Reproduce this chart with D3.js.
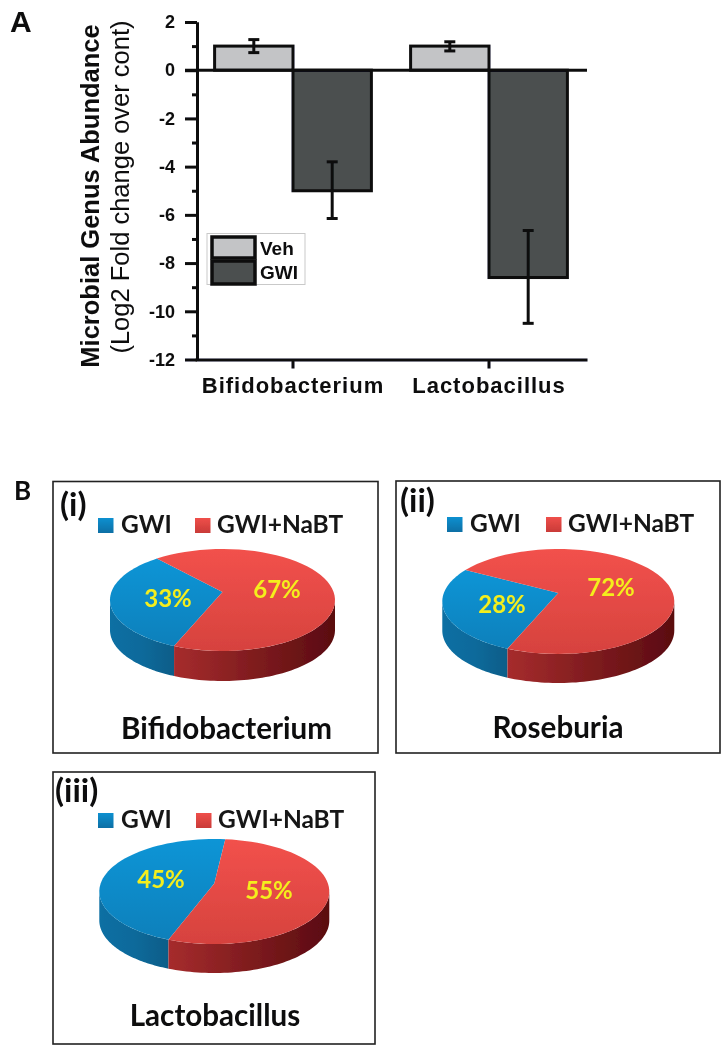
<!DOCTYPE html>
<html>
<head>
<meta charset="utf-8">
<script src="https://cdn.jsdelivr.net/npm/d3@7"></script>
<style>
  body { margin: 0; background: #fff; }
  svg { display: block; }
  .arial { font-family: "Liberation Sans", Arial, sans-serif; }
  .cal { font-family: Lato, "Open Sans", sans-serif; font-weight: 700; }
</style>
</head>
<body>
<script>
// bar chart values
const genera = ["Bifidobacterium", "Lactobacillus"];
const groups = ["Veh", "GWI"];
const vehMeans = [1, 1];
const vehUpper = [1.27, 1.18];
const vehLower = [0.73, 0.8];
const gwiMeans = [-5, -8.6];
const gwiUpper = [-3.8, -6.65];
const gwiLower = [-6.15, -10.5];
const majorTicks = [2, 0, -2, -4, -6, -8, -10, -12];
const minorTicks = [1, -1, -3, -5, -7, -9, -11];

// pie values
const pieTitles = ["Bifidobacterium", "Roseburia", "Lactobacillus"];
const pieTags = ["(i)", "(ii)", "(iii)"];
const pieLegend = ["GWI", "GWI+NaBT"];
const gwiShare = [33, 28, 45];
const nabtShare = [67, 72, 55];

const dark = "#0c0c0e";
const svg = d3.select("body").append("svg").attr("width", 726).attr("height", 1050);

const defs = svg.append("defs");
defs.append("filter").attr("id", "soft").append("feGaussianBlur").attr("stdDeviation", 0.55);
function grad(id, x2, y2, stops) {
  const g = defs.append("linearGradient").attr("id", id).attr("x1", 0).attr("y1", 0).attr("x2", x2).attr("y2", y2);
  stops.forEach((s, i) => g.append("stop").attr("offset", i / (stops.length - 1)).attr("stop-color", s));
}
grad("blueTop", 0, 1, ["#0f95d6", "#0b80bb"]);
grad("redTop", 0, 1, ["#f2514c", "#d6423e"]);
grad("blueSide", 1, 0, ["#0a6fa3", "#0a6a9b", "#085d88"]);
grad("redSide", 1, 0, ["#a62c2d", "#7f1c1e", "#5a0b10"]);
grad("blueKey", 0, 1, ["#0f90d0", "#0a6fa5"]);
grad("redKey", 0, 1, ["#ef4f4a", "#c93a38"]);

const root = svg.append("g").attr("filter", "url(#soft)");

// ---- panel A ----
const y = d3.scaleLinear().domain([2, -12]).range([22, 359.5]);
const x0 = d3.scaleBand().domain(genera).range([195, 587]);
const x1 = d3.scaleBand().domain(groups).range([0, x0.bandwidth()]).paddingOuter(0.25);

root.append("text").attr("class", "arial").attr("x", 10).attr("y", 32)
  .attr("font-size", 30).attr("font-weight", 700).attr("fill", dark).text("A");

const barRows = [];
genera.forEach((g, i) => {
  barRows.push({ genus: g, group: "Veh", mean: vehMeans[i], hi: vehUpper[i], lo: vehLower[i] });
  barRows.push({ genus: g, group: "GWI", mean: gwiMeans[i], hi: gwiUpper[i], lo: gwiLower[i] });
});
const barFill = { Veh: "#c3c4c6", GWI: "#4b4f50" };

root.selectAll("rect.bar").data(barRows).enter().append("rect")
  .attr("class", "bar")
  .attr("x", (d) => x0(d.genus) + x1(d.group))
  .attr("width", x1.bandwidth())
  .attr("y", (d) => Math.min(y(d.mean), y(0)))
  .attr("height", (d) => Math.abs(y(d.mean) - y(0)))
  .attr("fill", (d) => barFill[d.group])
  .attr("stroke", dark).attr("stroke-width", 3);

const barMid = (d) => x0(d.genus) + x1(d.group) + x1.bandwidth() / 2;
const errs = root.selectAll("g.err").data(barRows).enter().append("g").attr("class", "err")
  .attr("stroke", dark).attr("stroke-width", 3);
errs.append("line").attr("x1", barMid).attr("x2", barMid).attr("y1", (d) => y(d.hi)).attr("y2", (d) => y(d.lo));
errs.append("line").attr("x1", (d) => barMid(d) - 5.5).attr("x2", (d) => barMid(d) + 5.5).attr("y1", (d) => y(d.hi)).attr("y2", (d) => y(d.hi));
errs.append("line").attr("x1", (d) => barMid(d) - 5.5).attr("x2", (d) => barMid(d) + 5.5).attr("y1", (d) => y(d.lo)).attr("y2", (d) => y(d.lo));

// axes
const yMinor = root.append("g").attr("transform", "translate(197,0)")
  .call(d3.axisLeft(y).tickValues(minorTicks).tickSize(5).tickSizeOuter(0).tickFormat(""));
const yMajor = root.append("g").attr("transform", "translate(197,0)")
  .call(d3.axisLeft(y).tickValues(majorTicks).tickSize(12).tickSizeOuter(0).tickPadding(10).tickFormat((d) => String(d)));
const xAxis = root.append("g").attr("transform", "translate(0," + y(-12) + ")")
  .call(d3.axisBottom(x0).tickSize(9).tickSizeOuter(0).tickPadding(9));
root.append("line").attr("x1", 185).attr("x2", 587).attr("y1", y(0)).attr("y2", y(0))
  .attr("stroke", dark).attr("stroke-width", 3);

[yMinor, yMajor, xAxis].forEach((a) => {
  a.selectAll("path,line").attr("stroke", dark).attr("stroke-width", 3);
});
yMajor.selectAll("text").attr("class", "arial").attr("font-size", 18).attr("font-weight", 700).attr("fill", dark);
xAxis.selectAll("text").attr("class", "arial").attr("font-size", 22).attr("font-weight", 700)
  .attr("fill", dark).attr("letter-spacing", 1);

// axis titles
root.append("text").attr("class", "arial")
  .attr("transform", "translate(99,196) rotate(-90)").attr("text-anchor", "middle")
  .attr("font-size", 25.5).attr("font-weight", 700).attr("fill", dark).text("Microbial Genus Abundance");
root.append("text").attr("class", "arial")
  .attr("transform", "translate(129,187) rotate(-90)").attr("text-anchor", "middle")
  .attr("font-size", 25.5).attr("fill", dark).text("(Log2 Fold change over cont)");

// bar legend
const barKey = root.append("g");
barKey.append("rect").attr("x", 207).attr("y", 233.5).attr("width", 98).attr("height", 51)
  .attr("fill", "#fff").attr("stroke", "#c9c9c9").attr("stroke-width", 1);
groups.forEach((g, i) => {
  barKey.append("rect").attr("x", 212).attr("y", 237 + i * 24).attr("width", 43).attr("height", 21 + i * 2)
    .attr("fill", barFill[g]).attr("stroke", dark).attr("stroke-width", 3.5);
  barKey.append("text").attr("class", "arial").attr("x", 260).attr("y", 255 + i * 24)
    .attr("font-size", 19).attr("font-weight", 700).attr("fill", dark).text(g);
});

// ---- panel B ----
root.append("text").attr("class", "cal").attr("x", 14).attr("y", 500)
  .attr("font-size", 26).attr("fill", dark).text("B");

// where each pie sits on the page
const pieLayout = [
  { box: [53, 481.5, 325, 271.5], cx: 222.5, cy: 600, rx: 112.5, ry: 51, apexY: 592, depth: 30, start: 205.5,
    tagX: 60, tagY: 516, keyY: 518, keyA: 98, textA: 121, keyB: 195, textB: 217,
    pctX: [168, 277], pctY: [607, 598], titleX: 226.5, titleY: 739 },
  { box: [396, 481, 324, 272], cx: 558.3, cy: 601.5, rx: 116, ry: 52.5, apexY: 593, depth: 29, start: 206,
    tagX: 400, tagY: 512, keyY: 517, keyA: 447, textA: 470, keyB: 546, textB: 568,
    pctX: [502, 611], pctY: [613, 596], titleX: 558, titleY: 737.5 },
  { box: [53, 772, 322, 272], cx: 214.3, cy: 891.5, rx: 115, ry: 52.5, apexY: 883.5, depth: 29, start: 203.5,
    tagX: 55, tagY: 802, keyY: 813, keyA: 98, textA: 121, keyB: 196, textB: 218,
    pctX: [161, 269], pctY: [888, 899], titleX: 215, titleY: 1025.5 }
];

const line = d3.line();
const FRONT_A = Math.PI / 2, FRONT_B = Math.PI * 3 / 2;

pieLayout.forEach((p, i) => {
  const g = root.append("g");
  const pt = (a, dy) => [p.cx + p.rx * Math.sin(a), p.cy - p.ry * Math.cos(a) + (dy || 0)];
  const sweep = (a0, a1, dy) => d3.range(0, 61).map((k) => pt(a0 + (a1 - a0) * k / 60, dy));

  g.append("rect").attr("x", p.box[0]).attr("y", p.box[1]).attr("width", p.box[2]).attr("height", p.box[3])
    .attr("fill", "#fff").attr("stroke", "#222").attr("stroke-width", 1.6);

  const a0 = p.start * Math.PI / 180;
  const arcs = d3.pie().sort(null).startAngle(a0).endAngle(a0 + 2 * Math.PI)([gwiShare[i], nabtShare[i]]);
  const topFill = ["url(#blueTop)", "url(#redTop)"];
  const sideFill = ["url(#blueSide)", "url(#redSide)"];

  // rim first, only the part of each slice that faces the viewer
  arcs.forEach((s, k) => {
    [0, 2 * Math.PI].forEach((turn) => {
      const from = Math.max(s.startAngle - turn, FRONT_A);
      const to = Math.min(s.endAngle - turn, FRONT_B);
      if (to <= from) return;
      const rim = sweep(from, to, 0).concat(sweep(to, from, p.depth));
      g.append("path").attr("d", line(rim) + "Z").attr("fill", sideFill[k]);
    });
  });
  // top face
  arcs.forEach((s, k) => {
    const wedge = [[p.cx, p.apexY]].concat(sweep(s.startAngle, s.endAngle, 0));
    g.append("path").attr("d", line(wedge) + "Z").attr("fill", topFill[k]);
  });

  // percent labels
  [gwiShare[i], nabtShare[i]].forEach((v, k) => {
    g.append("text").attr("class", "cal").attr("x", p.pctX[k]).attr("y", p.pctY[k])
      .attr("text-anchor", "middle").attr("font-size", 24).attr("fill", "#f4ee1f").text(v + "%");
  });

  // legend
  [[p.keyA, p.textA, "url(#blueKey)"], [p.keyB, p.textB, "url(#redKey)"]].forEach((k, n) => {
    g.append("rect").attr("x", k[0]).attr("y", p.keyY).attr("width", 15.5).attr("height", 15).attr("fill", k[2]);
    g.append("text").attr("class", "cal").attr("x", k[1]).attr("y", p.keyY + 15)
      .attr("font-size", 24.5).attr("fill", "#151515").text(pieLegend[n]);
  });

  g.append("text").attr("class", "cal").attr("x", p.tagX).attr("y", p.tagY)
    .attr("font-size", 33).attr("fill", dark).text(pieTags[i]);
  g.append("text").attr("class", "cal").attr("x", p.titleX).attr("y", p.titleY)
    .attr("text-anchor", "middle").attr("font-size", 29.6).attr("fill", dark).text(pieTitles[i]);
});
</script>
</body>
</html>
